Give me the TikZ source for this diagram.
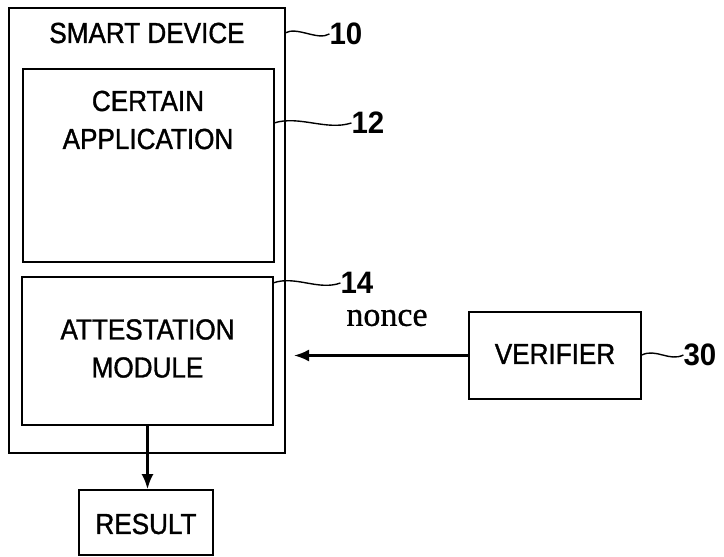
\documentclass[tikz,border=0pt]{standalone}
\usepackage{fontspec}
\setmainfont{Liberation Sans}
\newfontfamily\capfont[FakeStretch=0.9,FakeBold=1.2]{Liberation Sans}
\newfontfamily\numfont[FakeStretch=0.95]{Liberation Sans}
\newfontfamily\serffont[FakeBold=0.8]{Liberation Serif}
\usetikzlibrary{arrows.meta}
\begin{document}
\begin{tikzpicture}[x=1pt,y=-1pt,
  box/.style={draw=black, line width=1.7pt, inner sep=0pt},
  lbl/.style={font=\capfont\fontsize{29}{38}\selectfont, align=center, inner sep=0pt},
  refnum/.style={font=\numfont\bfseries\fontsize{31}{31}\selectfont, inner sep=0pt},
  lead/.style={line width=1.4pt},
  conn/.style={line width=2.4pt, -{Latex[length=15pt,width=12pt]}}]
\useasboundingbox (0,0) rectangle (724,557);
% outer device box
\node[box, minimum width=276pt, minimum height=445pt] (dev) at (147,230.5) {};
\node[lbl] (devtxt) at (147,33) {SMART DEVICE};
% certain application
\node[box, minimum width=251pt, minimum height=193pt] (app) at (148.5,165.5) {};
\node[lbl] (apptxt) at (148,120) {CERTAIN\\APPLICATION};
% attestation module
\node[box, minimum width=251pt, minimum height=148pt] (att) at (147.5,351) {};
\node[lbl] (atttxt) at (147.5,348.5) {ATTESTATION\\MODULE};
% result
\node[box, minimum width=134pt, minimum height=65pt] (res) at (146,522.5) {};
\node[lbl] (restxt) at (146,524) {RESULT};
% verifier
\node[box, minimum width=172pt, minimum height=87pt] (ver) at (555,355.5) {};
\node[lbl] (vertxt) at (555,354) {VERIFIER};
% reference numerals
\node[refnum] (n10) at (346,34) {10};
\node[refnum] (n12) at (368,123) {12};
\node[refnum] (n14) at (357,283) {14};
\node[refnum] (n30) at (700,355) {30};
% leader squiggles
\coordinate (l10a) at (285,33);
\draw[lead] (l10a) .. controls +(12,-7) and +(-12,7) .. (n10.west);
\coordinate (l12a) at (274,123);
\draw[lead] (l12a) .. controls +(25,-8) and +(-25,8) .. (n12.west);
\coordinate (l14a) at (273,283);
\draw[lead] (l14a) .. controls +(22,-8) and +(-22,8) .. (n14.west);
\draw[lead] (ver.east |- n30.west) .. controls +(14,-7) and +(-14,7) .. (n30.west);
% nonce arrow
\coordinate (ntip) at (294,355.5);
\draw[conn] (ver.west) -- (ntip);
\node[font=\serffont\fontsize{34}{34}\selectfont, inner sep=0pt] (nonce) at (387,318) {nonce};
% result arrow
\draw[conn] (att.south) -- (att.south |- res.north);
\end{tikzpicture}
\end{document}
